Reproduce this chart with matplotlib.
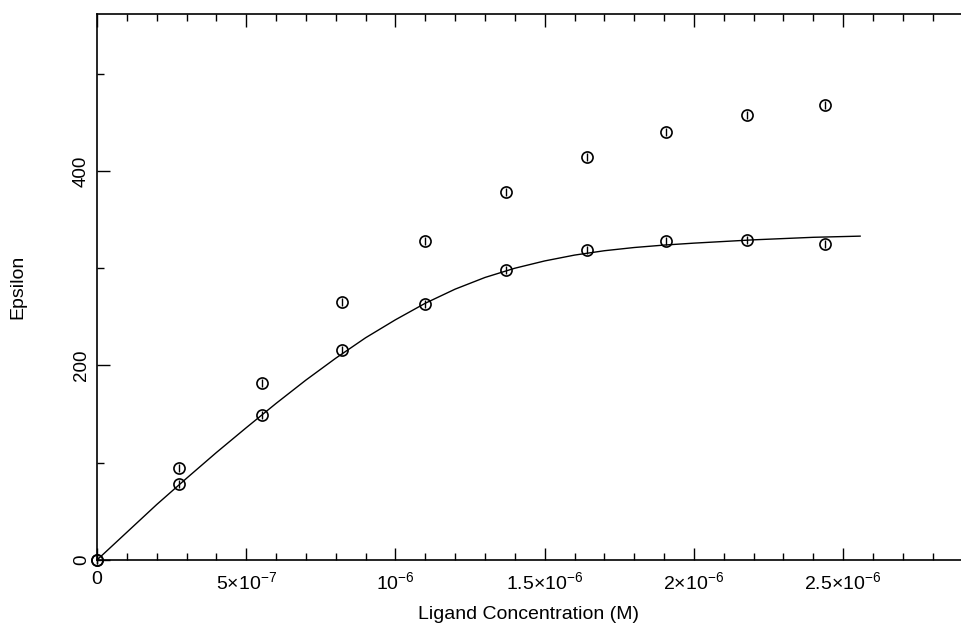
import matplotlib.pyplot as plt
from matplotlib.ticker import FixedLocator, MultipleLocator

plt.rcParams['font.family'] = ['Liberation Sans', 'DejaVu Sans']
plt.rcParams['mathtext.fontset'] = 'custom'
plt.rcParams['mathtext.rm'] = 'Liberation Sans'
plt.rcParams['mathtext.it'] = 'Liberation Sans'

# ligand concentration (M)
conc = [0, 2.75e-7, 5.53e-7, 8.21e-7, 1.099e-6, 1.371e-6, 1.642e-6, 1.907e-6, 2.178e-6, 2.44e-6]
eps_upper = [0, 94.6, 182, 265.3, 328, 378.4, 414.4, 440.1, 457.6, 467.9]
eps_lower = [0, 78.1, 149.1, 215.9, 263.2, 298.2, 318.8, 328, 329, 325]
err = [4, 4, 4, 4, 4, 4, 4, 4, 4, 4]

# fitted curve
fit_x = [0, 1e-7, 2e-7, 3e-7, 4e-7, 5e-7, 6e-7, 7e-7, 8e-7, 9e-7, 1.0e-6, 1.1e-6,
         1.2e-6, 1.3e-6, 1.4e-6, 1.5e-6, 1.6e-6, 1.7e-6, 1.8e-6, 1.9e-6, 2.0e-6,
         2.2e-6, 2.4e-6, 2.557e-6]
fit_y = [0, 28.5, 57, 84, 110.5, 136, 161, 185, 207.5, 228.5, 247, 264,
         278.5, 290.5, 300, 307.5, 313.5, 318, 321.3, 323.8, 325.8,
         329.2, 331.8, 333]

xticks = [0, 5e-7, 1e-6, 1.5e-6, 2e-6, 2.5e-6]
xtick_labels = ['0', r'$5{\times}10^{-7}$', r'$10^{-6}$', r'$1.5{\times}10^{-6}$',
                r'$2{\times}10^{-6}$', r'$2.5{\times}10^{-6}$']
yticks = [0, 200, 400]

fig = plt.figure(figsize=(9.61, 6.25), dpi=100)
ax = fig.add_axes([97 / 961, 65 / 625, 864 / 961, 546 / 625])

ax.plot(fit_x, fit_y, color='black', lw=1.0, zorder=2)
for ys in (eps_upper, eps_lower):
    ax.errorbar(conc, ys, yerr=err, fmt='o', ms=8, mfc='none', mec='black',
                mew=1.2, ecolor='black', elinewidth=1.0, capsize=0, zorder=3,
                clip_on=False)

ax.set_xlim(0, 2.895e-6)
ax.set_ylim(0, 561.4)

ax.xaxis.set_major_locator(FixedLocator(xticks))
ax.set_xticklabels(xtick_labels)
ax.xaxis.set_minor_locator(MultipleLocator(1e-7))
ax.yaxis.set_major_locator(FixedLocator(yticks))
ax.yaxis.set_minor_locator(MultipleLocator(100))
for lbl in ax.get_yticklabels():
    lbl.set_rotation(90)
    lbl.set_va('center')

ax.tick_params(axis='x', which='both', direction='in', top=True, bottom=True,
               labelsize=14, pad=8, width=1.0)
ax.tick_params(axis='y', which='both', direction='in', left=True, right=False,
               labelsize=13.5, pad=5, width=1.0)
ax.tick_params(which='major', length=9)
ax.tick_params(which='minor', length=5)
ax.spines['right'].set_visible(False)
for s in ('left', 'top', 'bottom'):
    ax.spines[s].set_linewidth(1.2)

ax.set_xlabel('Ligand Concentration (M)', fontsize=14, va='center')
ax.xaxis.set_label_coords(0.5, -0.1)
ax.set_ylabel('Epsilon', fontsize=14, va='center')
ax.yaxis.set_label_coords(-0.0914, 0.5)

fig.savefig('out.png', dpi=100)
